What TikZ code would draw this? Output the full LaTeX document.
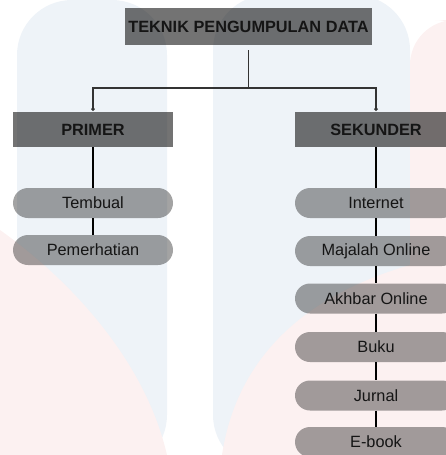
\documentclass[tikz,border=0pt]{standalone}
\usepackage{fontspec}
\setmainfont{Liberation Sans}
\usetikzlibrary{arrows.meta}
\definecolor{wmblue}{HTML}{EEF3F8}
\definecolor{wmpink}{HTML}{FCF1F1}
\definecolor{inkgray}{HTML}{151515}
\tikzset{
  headbox/.style={rectangle, fill=black, fill opacity=0.55, text opacity=1, text=inkgray,
    font=\bfseries\fontsize{16.3}{18}\selectfont, minimum width=247pt, minimum height=37pt, inner sep=0pt},
  groupbox/.style={headbox, minimum width=160pt, minimum height=35pt},
  itembox/.style={rectangle, rounded corners=15pt, fill=black, fill opacity=0.36, text opacity=1, text=inkgray,
    font=\fontsize{16.3}{18}\selectfont, minimum width=160pt, minimum height=30pt, inner sep=0pt},
  forkline/.style={draw=black!80, line width=1.2pt},
  linkline/.style={draw=black, line width=2pt}
}
\begin{document}
\begin{tikzpicture}[x=1pt, y=-1pt]
  \useasboundingbox (0,0) rectangle (445,455);
  % faint watermark behind the chart
  \fill[wmblue, rounded corners=55pt] (17,0) rectangle (167,470);
  \fill[wmblue, rounded corners=55pt] (213,-5) rectangle (410,470);
  \fill[wmpink, rounded corners=45pt] (410,20) rectangle (480,470);
  \fill[wmpink] (0,230) .. controls (70,280) and (145,360) .. (167,455) -- (0,455) -- cycle;
  \fill[wmpink] (222,455) .. controls (235,370) and (290,300) .. (410,265) -- (445,265) -- (445,455) -- cycle;

  \node[headbox] (teknik) at (248.5,26.5) {TEKNIK PENGUMPULAN DATA};
  \node[groupbox] (primer) at (93,129.5) {PRIMER};
  \node[groupbox, minimum width=162pt] (sekunder) at (376,129.5) {SEKUNDER};

  \foreach \i/\y/\t in {1/203/Tembual, 2/250/Pemerhatian} {
    \node[itembox] (p\i) at (93,\y) {\t};
  }
  \foreach \i/\y/\t in {1/203/Internet, 2/251/Majalah Online, 3/298.5/Akhbar Online,
                        4/347/Buku, 5/395.5/Jurnal, 6/442/E-book} {
    \node[itembox, minimum width=162pt] (s\i) at (376,\y) {\t};
  }

  \coordinate (fork) at (248.5,88);
  \draw[forkline] ([yshift=-5pt]teknik.south) -- (fork);
  \draw[forkline, -{Circle[open, length=3.5pt]}] (fork) -| ([yshift=1pt]primer.north);
  \draw[forkline, -{Circle[open, length=3.5pt]}] (fork) -| ([yshift=1pt]sekunder.north);

  \draw[linkline] (primer) -- (p1);
  \draw[linkline] (p1) -- (p2);
  \draw[linkline] (sekunder) -- (s1);
  \draw[linkline] (s1) -- (s2);
  \draw[linkline] (s2) -- (s3);
  \draw[linkline] (s3) -- (s4);
  \draw[linkline] (s4) -- (s5);
  \draw[linkline] (s5) -- (s6);
\end{tikzpicture}
\end{document}
